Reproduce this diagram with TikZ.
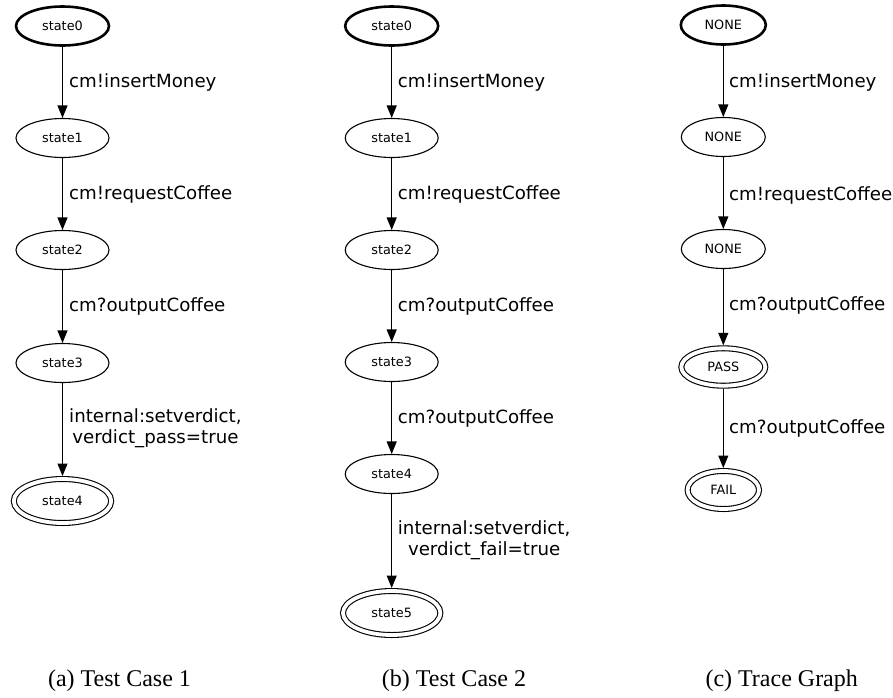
\documentclass[tikz,border=0pt]{standalone}
\usepackage{fontspec}
\setmainfont{Liberation Serif}
\newfontfamily\dvsans{DejaVu Sans}
\usetikzlibrary{shapes.geometric,arrows.meta}

\tikzset{
  st/.style={ellipse, draw, line width=1.1pt, inner sep=0pt,
    minimum width=93pt, minimum height=39pt,
    font=\dvsans\fontsize{12.8}{15}\selectfont},
  init/.style={st, line width=2.6pt},
  fin/.style={st, double, double distance=3.8pt, line width=1.1pt,
    outer sep=3pt, minimum width=97.4pt, minimum height=44pt},
  lbl/.style={anchor=west, inner sep=0pt, align=center,
    font=\dvsans\fontsize{18.2}{21}\selectfont},
  tr/.style={draw, line width=1.1pt,
    -{Triangle[length=12.5pt, width=10pt]}},
  captext/.style={anchor=base, inner sep=0pt, font=\fontsize{24}{28}\selectfont}
}

\begin{document}
\begin{tikzpicture}[x=1pt,y=-1pt]
\useasboundingbox (0,0) rectangle (893,697);

% (a) first test case
\node[init] (a0) at (62.5,26) {state0};
\node[st]   (a1) at (62.5,138) {state1};
\node[st]   (a2) at (62.5,250) {state2};
\node[st]   (a3) at (62.5,363) {state3};
\node[fin]  (a4) at (62.5,501) {state4};
\draw[tr] (a0) -- (a1);
\draw[tr] (a1) -- (a2);
\draw[tr] (a2) -- (a3);
\draw[tr] (a3) -- (a4);
\node[lbl] (la1) at (69,82)    {cm!insertMoney};
\node[lbl] (la2) at (69,194)   {cm!requestCoffee};
\node[lbl] (la3) at (69,306)   {cm?outputCoffee};
\node[lbl] (la4) at (69,428.5) {internal:setverdict,\\verdict\_pass=true};

% (b) second test case
\node[init] (b0) at (391.7,26) {state0};
\node[st]   (b1) at (391.7,138) {state1};
\node[st]   (b2) at (391.7,250) {state2};
\node[st]   (b3) at (391.7,362) {state3};
\node[st]   (b4) at (391.7,474) {state4};
\node[fin]  (b5) at (391.7,613) {state5};
\draw[tr] (b0) -- (b1);
\draw[tr] (b1) -- (b2);
\draw[tr] (b2) -- (b3);
\draw[tr] (b3) -- (b4);
\draw[tr] (b4) -- (b5);
\node[lbl] (lb1) at (397.7,82)    {cm!insertMoney};
\node[lbl] (lb2) at (397.7,194)   {cm!requestCoffee};
\node[lbl] (lb3) at (397.7,306)   {cm?outputCoffee};
\node[lbl] (lb4) at (397.7,418)   {cm?outputCoffee};
\node[lbl] (lb5) at (397.7,540.5) {internal:setverdict,\\verdict\_fail=true};

% (c) trace graph
\node[init, minimum width=85pt] (c0) at (723.3,25) {NONE};
\node[st, minimum width=84pt]   (c1) at (723.3,137) {NONE};
\node[st, minimum width=84pt]   (c2) at (723.3,249) {NONE};
\node[fin, minimum width=84pt, minimum height=37.4pt] (c3) at (723.3,367) {PASS};
\node[fin, minimum width=71.4pt, minimum height=38pt] (c4) at (723.3,490) {FAIL};
\draw[tr] (c0) -- (c1);
\draw[tr] (c1) -- (c2);
\draw[tr] (c2) -- (c3);
\draw[tr] (c3) -- (c4);
\node[lbl] (lc1) at (729,82)  {cm!insertMoney};
\node[lbl] (lc2) at (729,195) {cm!requestCoffee};
\node[lbl] (lc3) at (729,305) {cm?outputCoffee};
\node[lbl] (lc4) at (729,428) {cm?outputCoffee};

% captions
\node[captext] (capa) at (119.5,686) {(a) Test Case 1};
\node[captext] (capb) at (454,686)   {(b) Test Case 2};
\node[captext] (capc) at (781.7,686) {(c) Trace Graph};
\end{tikzpicture}
\end{document}
